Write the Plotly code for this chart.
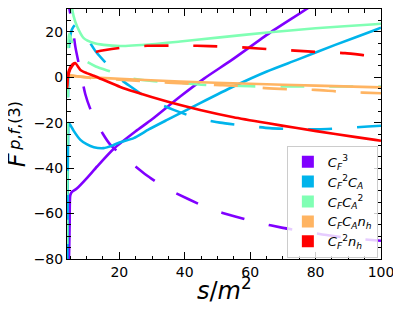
import plotly.graph_objects as go

# ---------------- data ----------------
labels = ["<i>C</i><sub><i>F</i></sub><sup>3</sup>",
          "<i>C</i><sub><i>F</i></sub><sup>2</sup><i>C</i><sub><i>A</i></sub>",
          "<i>C</i><sub><i>F</i></sub><i>C</i><sub><i>A</i></sub><sup>2</sup>",
          "<i>C</i><sub><i>F</i></sub><i>C</i><sub><i>A</i></sub><i>n</i><sub><i>h</i></sub>",
          "<i>C</i><sub><i>F</i></sub><sup>2</sup><i>n</i><sub><i>h</i></sub>"]
colors = ["#8000ff", "#00b4eb", "#80ffb4", "#ffb462", "#ff0000"]

# C_F^3
cf3_solid_x = [4.05, 4.6, 4.8, 5.0, 5.5, 7.0, 10.0, 13.2, 18.3, 25.0, 30.0, 38.6, 46.0, 54.4, 66.0, 78.3, 82.0]
cf3_solid_y = [-95, -80, -65, -52, -50.5, -49.0, -44.5, -39.3, -31.5, -23.8, -18.5, -8.5, -0.5, 7.6, 19.5, 31.0, 35.0]
cf3_dash_x = [4.03, 4.1, 4.4, 5.0, 5.8, 6.6, 8.1, 9.6, 11.0, 12.7, 15.0, 17.3, 21.8, 27.9, 34.0, 41.2, 47.8, 55.4, 62.4, 70.0, 77.3, 85.0, 92.0, 100.0]
cf3_dash_y = [60, 45, 33, 28, 21, 13, 2.5, -7.5, -13.5, -18.8, -25.0, -29.8, -35.6, -42.7, -48.6, -53.7, -58.0, -61.3, -64.0, -66.3, -68.0, -69.8, -71.0, -72.0]

# C_F^2 C_A
cf2ca_solid_x = [4.05, 4.2, 4.35, 4.5, 5.0, 6.0, 8.1, 10.0, 12.2, 15.2, 18.0, 20.3, 24.4, 29.0, 34.6, 44.7, 54.9, 65.1, 74.3, 86.0, 98.2, 100.0]
cf2ca_solid_y = [-95, -50, -25, -20.2, -21.0, -23.5, -27.6, -29.5, -30.8, -31.2, -30.0, -28.6, -26.8, -23.0, -18.8, -11.4, -4.1, 2.5, 7.6, 14.2, 20.8, 21.8]
cf2ca_dash_x = [4.05, 4.15, 4.3, 4.4, 4.7, 5.5, 6.5, 7.5, 8.9, 12.8, 17.8, 20.3, 23.4, 29.5, 36.6, 43.7, 50.8, 59.0, 66.0, 73.7, 80.9, 89.0, 96.0, 100.0]
cf2ca_dash_y = [-95, -40, -12, 5, 15, 21, 23, 22, 20, 11.3, 3.2, -0.8, -4.1, -10.0, -14.4, -18.0, -20.0, -21.4, -22.4, -22.9, -22.9, -22.4, -21.7, -21.4]

# C_F C_A^2
cfca2_solid_x = [5.3, 5.5, 6.0, 7.1, 9.1, 12.2, 15.2, 20.3, 30.0, 38.6, 50.0, 66.1, 80.0, 98.2, 100.0]
cfca2_solid_y = [40, 31, 27, 22.3, 17.2, 15.0, 14.2, 13.7, 14.5, 15.7, 17.4, 19.8, 21.5, 23.3, 23.5]
cfca2_dash_x = [4.02, 4.1, 4.2, 4.35, 4.6, 5.2, 6.5, 9.2, 12.8, 17.3, 23.4, 30.0, 38.6, 45.0, 60.0, 75.0, 100.0]
cfca2_dash_y = [-95, -40, -10, 12, 19, 17, 12, 7.6, 4.7, 2.5, -0.4, -1.7, -2.5, -3.3, -4.0, -4.1, -4.1]

# C_F C_A n_h
cfcanh_solid_x = [4.05, 10.0, 14.0, 20.0, 38.6, 60.0, 80.0, 100.0]
cfcanh_solid_y = [0.8, 0.0, -0.3, -0.7, -1.9, -2.9, -3.7, -4.5]
cfcanh_dash_x = [4.05, 8.0, 12.0, 20.0, 30.0, 40.0, 49.3, 56.3, 64.6, 71.6, 79.8, 86.9, 94.5, 100.0]
cfcanh_dash_y = [1.0, 0.2, -0.5, -1.1, -2.0, -2.8, -3.4, -3.8, -4.8, -5.3, -5.6, -6.3, -6.8, -7.1]

# C_F^2 n_h
cf2nh_solid_x = [4.0, 4.2, 4.5, 5.5, 6.5, 8.1, 10.0, 12.2, 14.5, 20.3, 24.4, 34.6, 44.7, 54.9, 65.1, 74.3, 86.0, 98.2, 100.0]
cf2nh_solid_y = [-5.0, -1.0, 2.5, 5.4, 6.2, 3.2, 1.8, 0.6, -0.8, -4.3, -6.3, -10.7, -14.4, -17.6, -20.2, -22.4, -25.0, -27.6, -28.0]
cf2nh_dash_x = [4.0, 4.3, 5.0, 6.5, 9.0, 13.3, 20.8, 28.5, 35.6, 43.7, 51.3, 59.0, 66.1, 73.7, 81.4, 89.0, 96.6, 100.0]
cf2nh_dash_y = [-4.0, 0.0, 3.5, 6.5, 9.0, 11.3, 13.0, 13.8, 13.9, 13.8, 13.5, 13.0, 12.3, 11.7, 11.0, 10.6, 9.4, 9.0]

x_ticks = [20, 40, 60, 80, 100]
y_ticks = [-80, -60, -40, -20, 0, 20]

series = [
    (cf3_solid_x, cf3_solid_y, cf3_dash_x, cf3_dash_y),
    (cf2ca_solid_x, cf2ca_solid_y, cf2ca_dash_x, cf2ca_dash_y),
    (cfca2_solid_x, cfca2_solid_y, cfca2_dash_x, cfca2_dash_y),
    (cfcanh_solid_x, cfcanh_solid_y, cfcanh_dash_x, cfcanh_dash_y),
    (cf2nh_solid_x, cf2nh_solid_y, cf2nh_dash_x, cf2nh_dash_y),
]

fig = go.Figure()
LW = 2.6
for (sx, sy, dx, dy), c in zip(series, colors):
    fig.add_trace(go.Scatter(x=sx, y=sy, mode="lines", line=dict(color=c, width=LW, shape="spline", smoothing=0.6),
                             showlegend=False, hoverinfo="skip"))
    fig.add_trace(go.Scatter(x=dx, y=dy, mode="lines", line=dict(color=c, width=LW, dash="24px,25px", shape="spline", smoothing=0.6),
                             showlegend=False, hoverinfo="skip"))

for lab, c in zip(labels, colors):
    fig.add_trace(go.Scatter(x=[None], y=[None], mode="markers", name=lab,
                             marker=dict(symbol="square", size=12, color=c)))

axis_common = dict(
    showline=True, linecolor="black", linewidth=1, mirror="allticks",
    ticks="inside", ticklen=7, tickwidth=1, tickcolor="black",
    showgrid=False, zeroline=False, automargin=False,
    tickfont=dict(family="DejaVu Sans", size=14, color="black"),
)

fig.update_xaxes(range=[4, 100], tickvals=x_ticks,
                 minor=dict(dtick=5, tick0=0, ticks="inside", ticklen=3.5, tickcolor="black", showgrid=False),
                 **axis_common)
fig.update_yaxes(range=[-80, 30], tickvals=y_ticks,
                 minor=dict(dtick=5, tick0=0, ticks="inside", ticklen=3.5, tickcolor="black", showgrid=False),
                 **axis_common)

# the page body adds an 8px margin, so the figure is shifted to compensate
OFF = 8
W, H = 401 - OFF, 312 - OFF
PLOT_L, PLOT_R, PLOT_T, PLOT_B = 67 - OFF, 381 - OFF, 8.5 - OFF, 259 - OFF
pw, ph = PLOT_R - PLOT_L, PLOT_B - PLOT_T


def px_x(px):
    return (px - OFF - PLOT_L) / pw


def px_y(py):
    return (PLOT_B - (py - OFF)) / ph


fig.add_annotation(text="<i>s</i>/<i>m</i><sup>2</sup>", xref="paper", yref="paper",
                   x=px_x(224), y=px_y(289), xanchor="center", yanchor="middle",
                   showarrow=False, font=dict(family="DejaVu Sans", size=24, color="black"))
# y title: F with its superscript, built from two rotated pieces
fig.add_annotation(text="<i>F</i>", xref="paper", yref="paper",
                   x=px_x(17), y=px_y(160), xanchor="center", yanchor="middle",
                   textangle=-90, showarrow=False, font=dict(family="DejaVu Sans", size=24, color="black"))
fig.add_annotation(text="<i>p</i>,<i>f</i>,(3)", xref="paper", yref="paper",
                   x=px_x(14.5), y=px_y(126), xanchor="center", yanchor="middle",
                   textangle=-90, showarrow=False, font=dict(family="DejaVu Sans", size=16, color="black"))

fig.update_layout(
    width=W, height=H,
    margin=dict(l=PLOT_L, r=W - PLOT_R, t=PLOT_T, b=H - PLOT_B, pad=0),
    paper_bgcolor="white", plot_bgcolor="white",
    legend=dict(x=0.99, y=0.005, xanchor="right", yanchor="bottom",
                bgcolor="rgba(255,255,255,0.8)", bordercolor="#cccccc", borderwidth=1,
                font=dict(family="DejaVu Sans", size=13, color="black"),
                itemwidth=30, tracegroupgap=0),
)

fig.write_html("out.html")
